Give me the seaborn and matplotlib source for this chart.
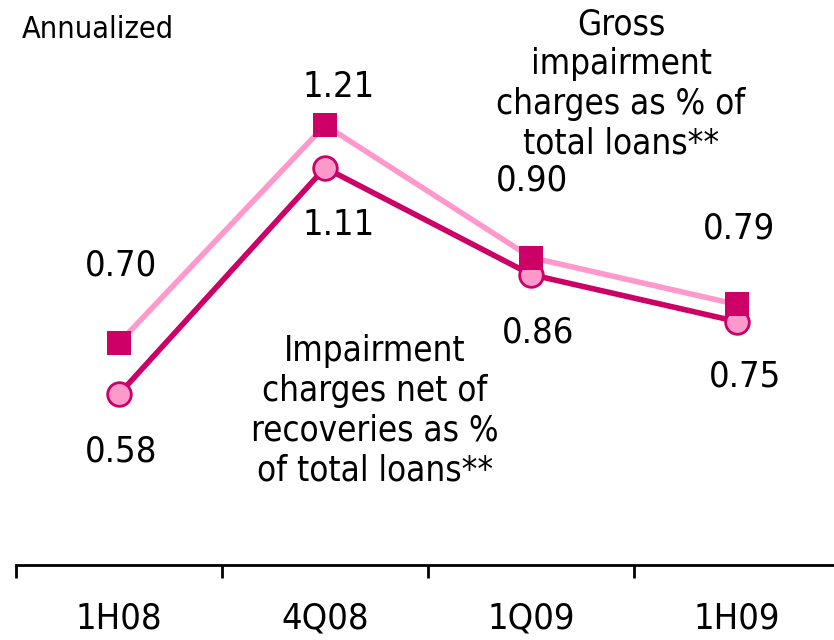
import matplotlib
matplotlib.use("Agg")
import matplotlib.pyplot as plt
import seaborn as sns
import pandas as pd
from matplotlib.ticker import FixedLocator, NullFormatter

# ---- data ----
categories = ["1H08", "4Q08", "1Q09", "1H09"]
gross = [0.70, 1.21, 0.90, 0.79]
net = [0.58, 1.11, 0.86, 0.75]
gross_labels = ["0.70", "1.21", "0.90", "0.79"]
net_labels = ["0.58", "1.11", "0.86", "0.75"]

sns.set_theme(style="white")
plt.rcParams['font.family'] = ['DejaVu Sans']
plt.rcParams['text.color'] = 'black'
FONT = dict(family='DejaVu Sans', stretch='condensed', color='black')

DARK = "#CC0066"
LIGHT = "#FF99CC"

fig = plt.figure(figsize=(8.34, 6.40), dpi=100)
ax = fig.add_axes([16/834, 75/640, 1 - 16/834, 1 - 75/640])

pos = list(range(len(categories)))
df = pd.DataFrame({"pos": pos, "gross": gross, "net": net})

sns.lineplot(data=df, x="pos", y="net", ax=ax, color=DARK, linewidth=4.0,
             marker="o", markersize=17, markerfacecolor=LIGHT,
             markeredgecolor=DARK, markeredgewidth=2.0, zorder=3)
sns.lineplot(data=df, x="pos", y="gross", ax=ax, color=LIGHT, linewidth=4.0,
             marker="s", markersize=17, markerfacecolor=DARK,
             markeredgecolor=DARK, markeredgewidth=0, zorder=4)

ax.set_xlim(-0.5, 3.47)
ax.set_ylim(0.180, 1.503)

# offsets in pixels from the marker for value labels
g_off = [(2, 77), (14, 38), (1, 77), (2, 76)]
n_off = [(2, -57), (14, -57), (7, -58), (8, -55)]
for i in pos:
    ax.annotate(gross_labels[i], (i, gross[i]), xytext=g_off[i], textcoords='offset pixels',
                ha='center', va='center', fontsize=26, **FONT)
    ax.annotate(net_labels[i], (i, net[i]), xytext=n_off[i], textcoords='offset pixels',
                ha='center', va='center', fontsize=26, **FONT)

fig.text(621/834, 1 - 84/640, "Gross\nimpairment\ncharges as % of\ntotal loans**",
         ha='center', va='center', fontsize=25, linespacing=1.22, **FONT)
fig.text(375/834, 1 - 411/640, "Impairment\ncharges net of\nrecoveries as %\nof total loans**",
         ha='center', va='center', fontsize=25, linespacing=1.22, **FONT)
fig.text(22/834, 1 - 30/640, "Annualized", ha='left', va='center', fontsize=22,
         family='DejaVu Sans', stretch='condensed', color='black')

# axes styling
for s in ["left", "top", "right"]:
    ax.spines[s].set_visible(False)
ax.spines["bottom"].set_color("black")
ax.spines["bottom"].set_linewidth(2.0)
ax.set_yticks([])
ax.set_xticks(pos)
ax.set_xticklabels(categories, fontsize=26, **FONT)
ax.xaxis.set_minor_locator(FixedLocator([-0.5, 0.5, 1.5, 2.5]))
ax.xaxis.set_minor_formatter(NullFormatter())
ax.tick_params(axis='x', which='major', length=0, pad=26, colors='black')
ax.tick_params(axis='x', which='minor', length=9.5, width=2.0, direction='out',
               color='black', bottom=True)
ax.set_xlabel("")
ax.set_ylabel("")
ax.patch.set_alpha(0)

fig.savefig("out.png", dpi=100)
